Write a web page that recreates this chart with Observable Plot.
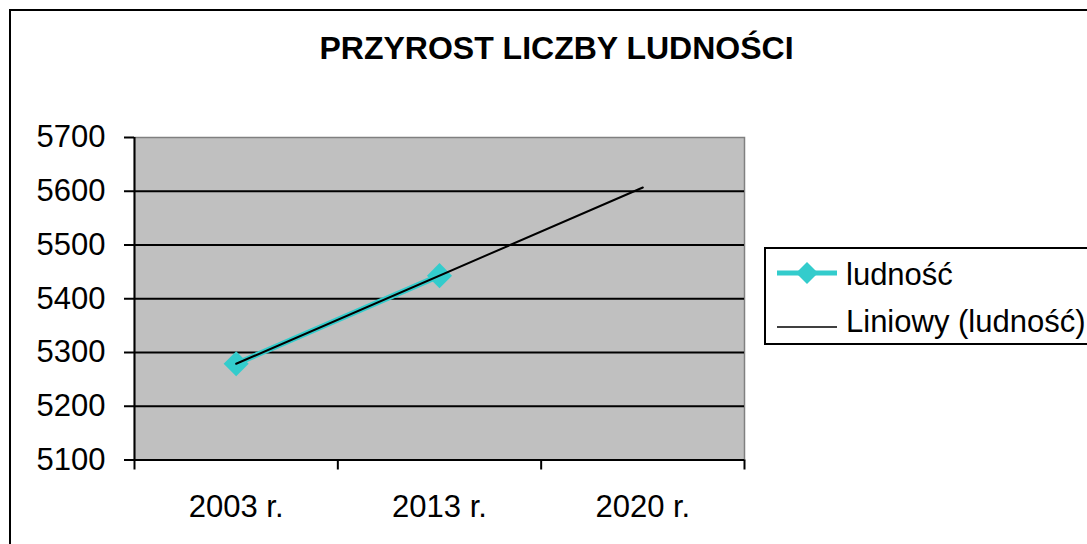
<!DOCTYPE html>
<html>
<head>
<meta charset="utf-8">
<script src="https://cdn.jsdelivr.net/npm/d3@7"></script>
<script src="https://cdn.jsdelivr.net/npm/@observablehq/plot@0.6"></script>
<style>
html, body { margin: 0; padding: 0; width: 1087px; height: 544px; overflow: hidden; background: #fff; }
body { font-family: "Liberation Sans", Arial, sans-serif; color: #000; }
#wrap { position: relative; width: 1087px; height: 544px; overflow: hidden; }
#border { position: absolute; left: 9px; top: 9px; width: 1200px; height: 700px; border: 2px solid #000; box-sizing: border-box; }
#chart { position: absolute; left: 0; top: 0; }
#title { position: absolute; left: 0; width: 1113px; top: 32px; text-align: center; font-weight: bold; font-size: 32px; line-height: 32px; white-space: nowrap; }
#legend { position: absolute; left: 764px; top: 247px; width: 360px; height: 98px; border: 2px solid #000; box-sizing: border-box; background: #fff; }
.ltext { position: absolute; left: 846px; font-size: 31px; line-height: 31px; white-space: nowrap; }
.lsw { position: absolute; left: 772px; }
</style>
</head>
<body>
<div id="wrap">
  <div id="border"></div>
  <div id="chart"></div>
  <div id="title"></div>
  <div id="legend"></div>
</div>
<script>
// ---- data ----
const titleText = "PRZYROST LICZBY LUDNOŚCI";
const categories = ["2003 r.", "2013 r.", "2020 r."];
const popCategories = ["2003 r.", "2013 r."];
const population = [5279, 5443];
const trendCategories = ["2003 r.", "2020 r."];
const trendValues = [5279, 5607];
const yTicks = [5100, 5200, 5300, 5400, 5500, 5600, 5700];
const gridValues = [5200, 5300, 5400, 5500, 5600];
const seriesName = "ludność";
const trendName = "Liniowy (ludność)";
const seriesColor = "#33cccc";

// ---- build rows ----
const popRows = popCategories.map((c, i) => ({x: categories.indexOf(c), y: population[i]}));
const trendRows = trendCategories.map((c, i) => ({x: categories.indexOf(c), y: trendValues[i]}));
const catIdx = categories.map((c, i) => i);
const boundaries = [-0.5, ...catIdx.map(i => i + 0.5)];

const chart = Plot.plot({
  width: 1087,
  height: 544,
  marginLeft: 134,
  marginRight: 343,
  marginTop: 137,
  marginBottom: 84.5,
  style: {fontFamily: "'Liberation Sans', Arial, sans-serif", fontSize: "31px", background: "transparent", color: "#000"},
  x: {type: "linear", domain: [-0.5, categories.length - 0.5], label: null},
  y: {domain: [yTicks[0], yTicks[yTicks.length - 1]], label: null},
  marks: [
    Plot.frame({fill: "#c0c0c0", stroke: "#808080", strokeWidth: 1.5}),
    Plot.ruleY(gridValues, {stroke: "#000", strokeWidth: 2}),
    Plot.ruleY([yTicks[0]], {stroke: "#000", strokeWidth: 2}),
    Plot.ruleX([-0.5], {stroke: "#000", strokeWidth: 2}),
    Plot.axisY({ticks: yTicks, label: null, tickSize: 10, tickPadding: 19, fontSize: 31, stroke: "#000", strokeWidth: 2, tickFormat: d => String(d)}),
    Plot.axisX({ticks: boundaries, label: null, tickSize: 10, stroke: "#000", strokeWidth: 2, tickFormat: () => ""}),
    Plot.axisX({ticks: catIdx, label: null, tickSize: 0, tickPadding: 35, fontSize: 31, tickFormat: i => categories[i]}),
    Plot.line(popRows, {x: "x", y: "y", stroke: seriesColor, strokeWidth: 5.5}),
    Plot.dot(popRows, {x: "x", y: "y", symbol: "diamond2", r: 11.3, fill: seriesColor, stroke: null}),
    Plot.line(trendRows, {x: "x", y: "y", stroke: "#000", strokeWidth: 2})
  ]
});
document.getElementById("chart").appendChild(chart);
document.getElementById("title").textContent = titleText;

// ---- legend ----
const wrap = document.getElementById("wrap");
function addText(txt, top) {
  const d = document.createElement("div");
  d.className = "ltext";
  d.style.top = top + "px";
  d.textContent = txt;
  wrap.appendChild(d);
}
const NS = "http://www.w3.org/2000/svg";
function addSwatch(top, color, width, diamond) {
  const s = document.createElementNS(NS, "svg");
  s.setAttribute("class", "lsw");
  s.setAttribute("width", 72);
  s.setAttribute("height", 30);
  s.style.top = top + "px";
  const l = document.createElementNS(NS, "line");
  l.setAttribute("x1", 5); l.setAttribute("x2", 65);
  l.setAttribute("y1", 15); l.setAttribute("y2", 15);
  l.setAttribute("stroke", color); l.setAttribute("stroke-width", width);
  s.appendChild(l);
  if (diamond) {
    const p = document.createElementNS(NS, "path");
    p.setAttribute("d", "M35,4L46,15L35,26L24,15Z");
    p.setAttribute("fill", color);
    s.appendChild(p);
  }
  wrap.appendChild(s);
}
addSwatch(258, seriesColor, 5, true);
addSwatch(312, "#000", 1.3, false);
addText(seriesName, 259);
addText(trendName, 306);
</script>
</body>
</html>
